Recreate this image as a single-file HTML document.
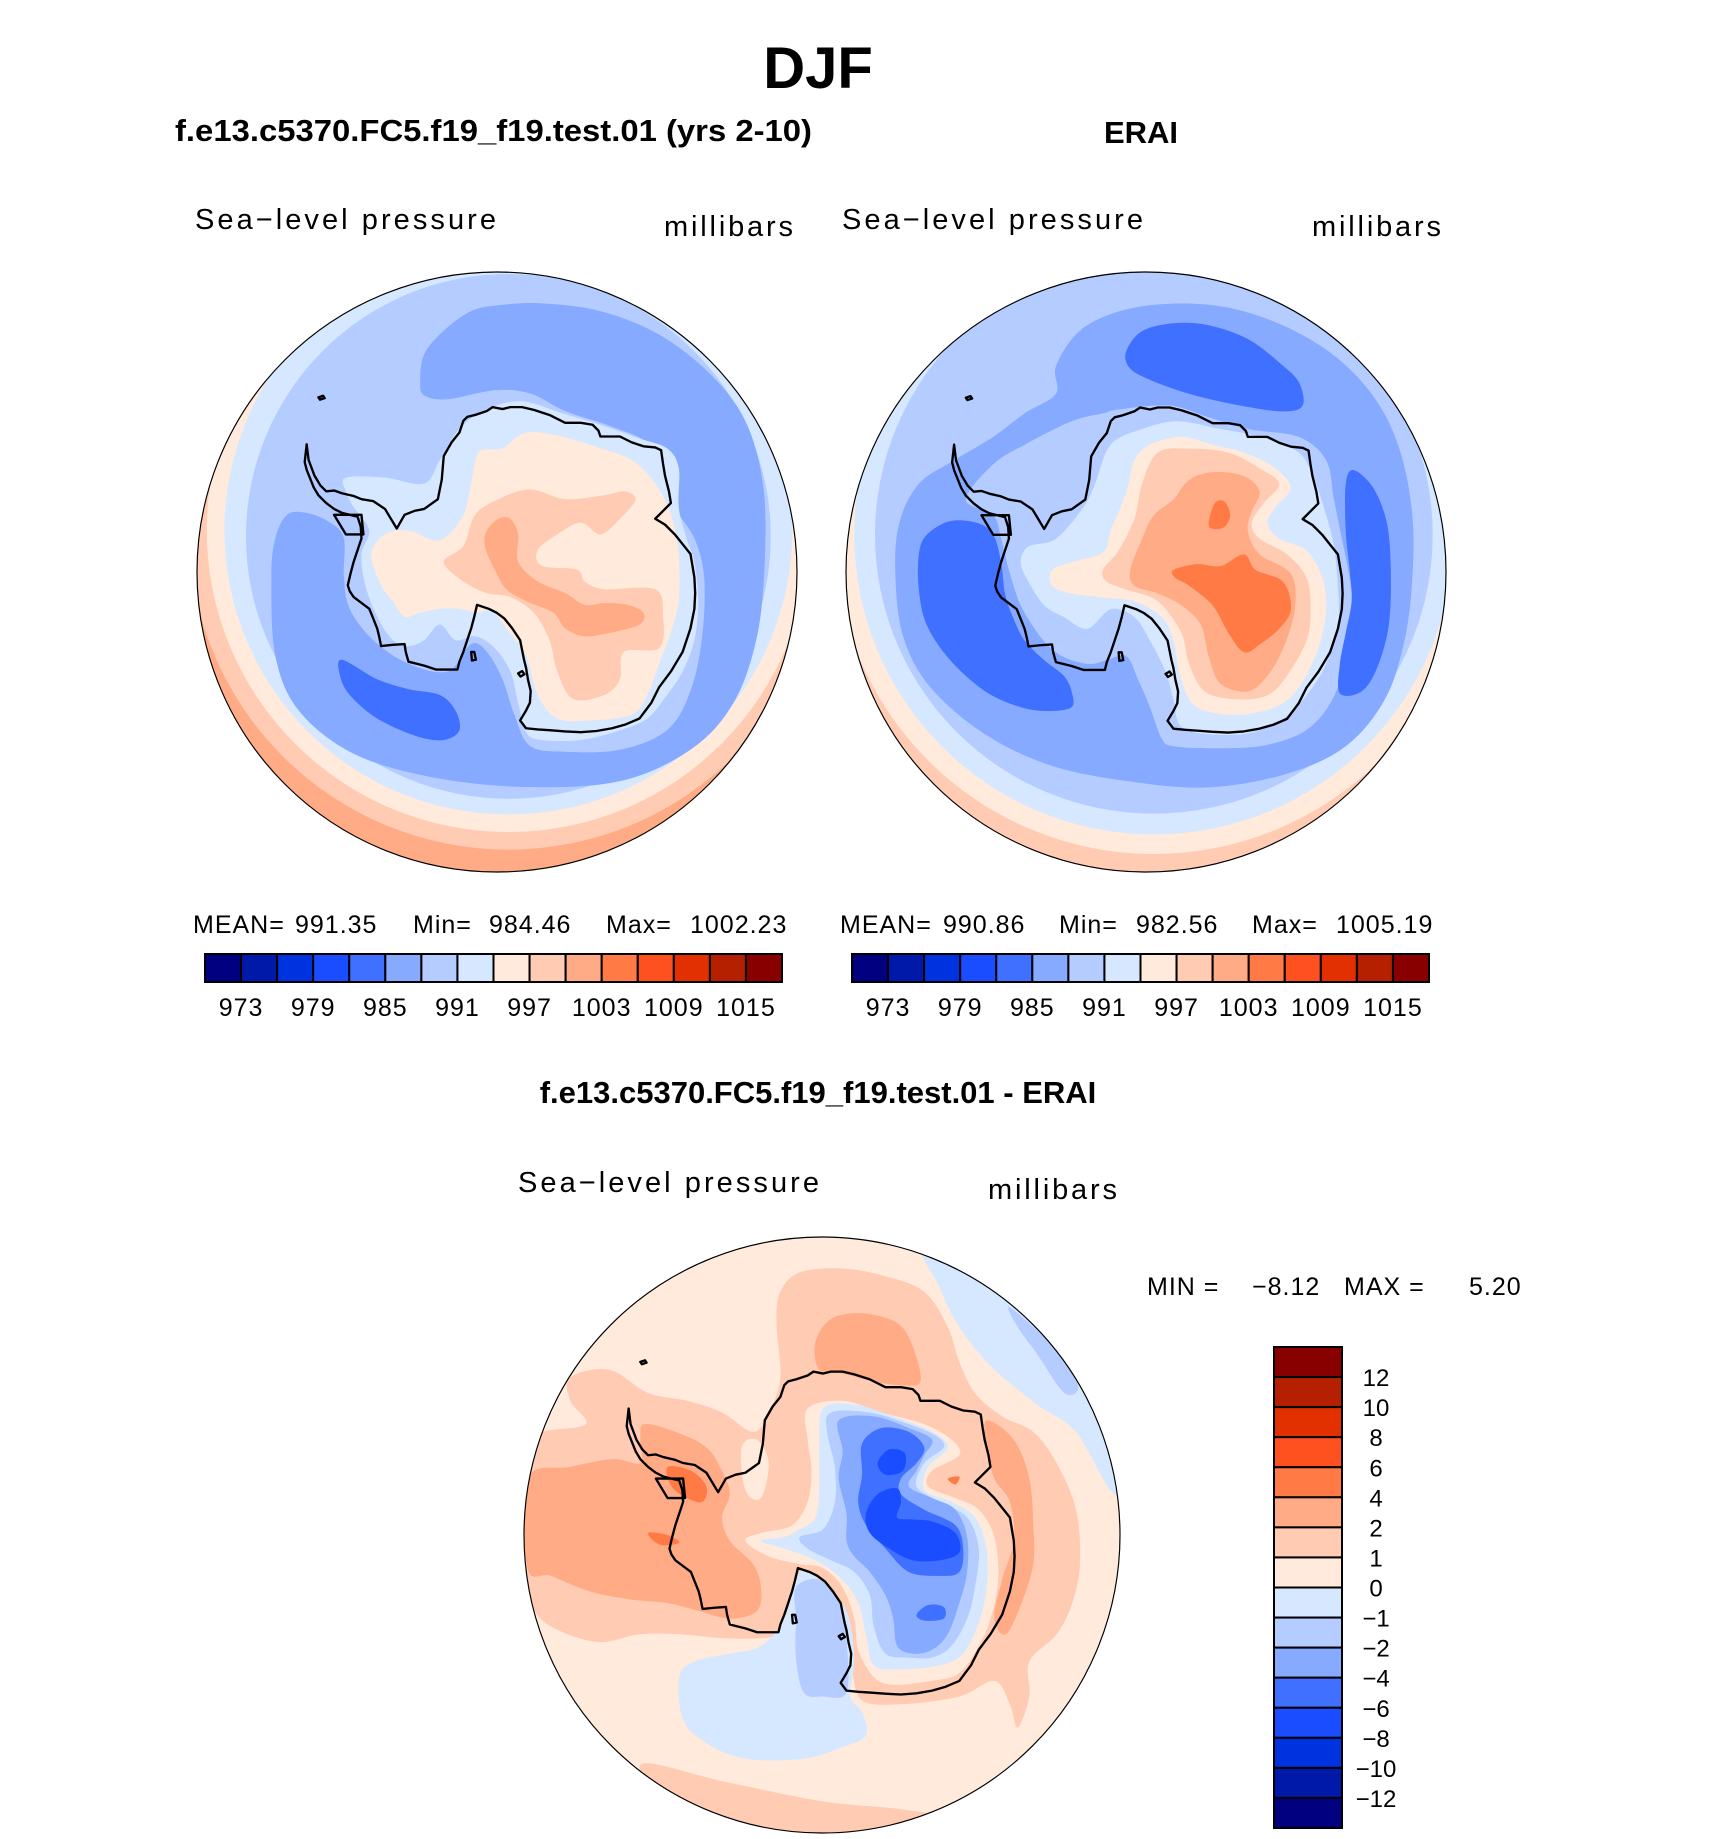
<!DOCTYPE html>
<html><head><meta charset="utf-8"><style>
html,body{margin:0;padding:0;background:#fff;}
svg{display:block;}
.t{font-family:"Liberation Sans",sans-serif;fill:#000;}
.s{font-family:"Liberation Sans",sans-serif;fill:#000;font-size:25px;letter-spacing:1px;}
</style></head><body>
<svg id="page" width="1710" height="1839" viewBox="0 0 1710 1839" xmlns="http://www.w3.org/2000/svg">
<defs>
<path id="coast" d="M300,460 L305,500 320,540 335,565 350,580 370,578 390,585 420,592 440,600 470,605 500,625 515,650 530,675 550,640 575,630 600,625 635,600 645,550 650,490 670,455 690,430 700,400 710,390 730,385 760,375 775,365 800,370 820,365 850,365 880,372 920,385 960,405 1000,405 1030,410 1045,425 1050,440 1075,440 1100,440 1130,455 1160,465 1190,468 1205,475 1210,510 1215,540 1225,580 1230,610 1210,630 1190,650 1215,665 1240,690 1260,715 1280,740 1285,770 1290,800 1292,840 1290,880 1285,905 1280,930 1270,960 1260,990 1245,1015 1230,1040 1215,1060 1200,1080 1190,1100 1180,1120 1165,1140 1150,1160 1115,1175 1080,1185 1040,1192 1000,1195 960,1193 920,1190 890,1188 860,1185 845,1165 860,1140 870,1120 872,1090 865,1060 860,1030 855,1010 850,985 845,960 825,930 805,905 785,890 765,880 735,870 728,900 720,930 710,960 700,990 690,1015 685,1035 660,1035 630,1035 600,1025 560,1015 553,990 550,970 520,972 490,975 485,950 480,930 470,905 460,880 440,865 420,850 410,835 405,820 412,790 420,760 430,730 440,700 438,670 430,645 410,640 390,635 370,625 350,610 340,600 330,590 318,570 310,550 300,525 295,505 Z M370,640 L440,640 445,690 400,690 Z M330,340 l12,-4 4,6 -12,4 Z M840,1045 l10,-6 6,8 -10,6 Z M720,990 l8,0 4,20 -10,2 Z" fill="none" stroke="#000" stroke-width="6" stroke-linejoin="round"/>
</defs>
<text class="t" x="818" y="88" text-anchor="middle" font-size="58" font-weight="bold">DJF</text>
<text class="t" x="175" y="141" font-size="31" font-weight="bold" textLength="637" lengthAdjust="spacingAndGlyphs">f.e13.c5370.FC5.f19_f19.test.01 (yrs 2-10)</text>
<text class="t" x="1141" y="143" text-anchor="middle" font-size="31" font-weight="bold">ERAI</text>
<text class="t" x="195" y="229" font-size="29" textLength="301" lengthAdjust="spacing">Sea−level pressure</text>
<text class="t" x="664" y="236" font-size="29" textLength="129" lengthAdjust="spacing">millibars</text>
<text class="t" x="842" y="229" font-size="29" textLength="301" lengthAdjust="spacing">Sea−level pressure</text>
<text class="t" x="1312" y="236" font-size="29" textLength="129" lengthAdjust="spacing">millibars</text>
<g id="map-left"></g>
<g id="map-right"></g>
<g id="map-diff"></g>
<g>
<text class="s" x="193" y="933">MEAN=</text><text class="s" x="295" y="933">991.35</text><text class="s" x="413" y="933">Min=</text><text class="s" x="489" y="933">984.46</text><text class="s" x="606" y="933">Max=</text><text class="s" x="690" y="933">1002.23</text>
</g>
<g>
<text class="s" x="840" y="933">MEAN=</text><text class="s" x="943" y="933">990.86</text><text class="s" x="1059" y="933">Min=</text><text class="s" x="1136" y="933">982.56</text><text class="s" x="1252" y="933">Max=</text><text class="s" x="1336" y="933">1005.19</text>
</g>
<g id="cb-left"></g>
<g id="cb-right"></g>
<text class="t" x="818" y="1103" text-anchor="middle" font-size="31" font-weight="bold">f.e13.c5370.FC5.f19_f19.test.01 - ERAI</text>
<text class="t" x="518" y="1192" font-size="29" textLength="301" lengthAdjust="spacing">Sea−level pressure</text>
<text class="t" x="988" y="1199" font-size="29" textLength="129" lengthAdjust="spacing">millibars</text>
<g>
<text class="s" x="1147" y="1295">MIN =</text><text class="s" x="1252" y="1295">−8.12</text><text class="s" x="1344" y="1295">MAX =</text><text class="s" x="1469" y="1295">5.20</text>
</g>
<g id="cb-diff"></g>
</svg>
<script>
const NS="http://www.w3.org/2000/svg";
const barColors=["#000080","#0019a8","#0033e0","#1a4dff","#4070ff","#85aaff","#b4ccff","#d5e8ff","#ffeadb","#ffcbb3","#ffab85","#ff7a45","#ff5020","#e33000","#b52000","#880000"];
const slpTicks=["973","979","985","991","997","1003","1009","1015"];
const slpTickIdx=[1,3,5,7,9,11,13,15];
const diffTicks=["12","10","8","6","4","2","1","0","−1","−2","−4","−6","−8","−10","−12"];

function mk(tag,attrs,parent){const e=document.createElementNS(NS,tag);for(const k in attrs)e.setAttribute(k,attrs[k]);parent.appendChild(e);return e;}

function hbar(gid,x0,x1,y0,y1){
  const g=document.getElementById(gid);const w=(x1-x0)/barColors.length;
  barColors.forEach((c,i)=>{
    const r=mk('rect',{x:x0+i*w,y:y0,width:w,height:y1-y0,fill:c,stroke:'#000','stroke-width':2},g);
    
    
  });
  slpTicks.forEach((t,i)=>{
    const tx=mk('text',{x:x0+slpTickIdx[i]*w,y:y1+34,'text-anchor':'middle','font-size':25,'letter-spacing':1,class:'t'},g);
    tx.textContent=t;
    
    
  });
}
hbar('cb-left',205,782,954,982);
hbar('cb-right',852,1429,954,982);
(function(){
  const g=document.getElementById('cb-diff');const x0=1274,x1=1342,y0=1347,y1=1828;const h=(y1-y0)/16;
  barColors.slice().reverse().forEach((c,i)=>{
    const r=mk('rect',{x:x0,y:y0+i*h,width:x1-x0,height:h,fill:c,stroke:'#000','stroke-width':2},g);
    
    
  });
  diffTicks.forEach((t,i)=>{
    const tx=mk('text',{x:1376,y:y0+(i+1)*h+9,'text-anchor':'middle','font-size':24,class:'t'},g);
    tx.textContent=t;
    
    
  });
})();

const C={c4:"#1a4dff",c5:"#4070ff",c6:"#85aaff",c7:"#b4ccff",c8:"#d5e8ff",c9:"#ffeadb",c10:"#ffcbb3",c11:"#ffab85",c12:"#ff7a45"};
function smooth(p){const n=p.length/2;const P=[];for(let i=0;i<n;i++)P.push([p[2*i],p[2*i+1]]);
  let d="M"+P[0][0]+","+P[0][1];
  for(let i=0;i<n;i++){const p0=P[(i-1+n)%n],p1=P[i],p2=P[(i+1)%n],p3=P[(i+2)%n];
    d+=" C"+(p1[0]+(p2[0]-p0[0])/6).toFixed(1)+","+(p1[1]+(p2[1]-p0[1])/6).toFixed(1)+" "+(p2[0]-(p3[0]-p1[0])/6).toFixed(1)+","+(p2[1]-(p3[1]-p1[1])/6).toFixed(1)+" "+p2[0]+","+p2[1];}
  return d+"Z";}
function drawMap(gid,x,y,size,vx,vy,layers,id){
  const g=document.getElementById(gid);
  const s=mk('svg',{x:x,y:y,width:size,height:size,viewBox:vx+" "+vy+" 1532 1532",overflow:'visible'},g);
  const cx=vx+766,cy=vy+766;
  const cp=mk('clipPath',{id:'clip'+id},s);mk('circle',{cx:cx,cy:cy,r:766},cp);
  const inner=mk('g',{'clip-path':'url(#clip'+id+')'},s);
  layers.forEach(L=>{
    let e;
    if(L[1]==='circle'){e=mk('circle',{cx:L[2],cy:L[3],r:L[4],fill:C[L[0]]},inner);}
    else{e=mk('path',{d:smooth(L[1]),fill:C[L[0]]},inner);}
    
    
  });
  const u=mk('use',{href:'#coast'},inner);
  
  
  const b=mk('circle',{cx:cx,cy:cy,r:766,fill:'none',stroke:'#000','stroke-width':3},s);
  
  
}

const leftLayers=[
 ["c11",'circle',786,786,800],
 ["c10",'circle',815,680,815],["c9",'circle',815,680,770],["c8",'circle',815,680,725],["c7",'circle',815,695,670],
 ["c6",[590,300,600,230,650,170,720,120,790,105,900,100,1050,120,1200,180,1330,280,1420,400,1465,560,1470,750,1450,950,1390,1120,1280,1240,1100,1320,860,1335,620,1310,420,1250,280,1140,220,1000,210,800,220,700,250,640,300,635,360,660,395,700,395,800,410,880,470,960,560,1020,660,1040,720,970,760,990,800,1060,830,1150,870,1230,960,1245,1100,1240,1220,1190,1280,1090,1310,950,1315,800,1290,700,1240,620,1215,520,1170,455,1080,415,960,375,870,330,780,322,660,345,600,335]],
 ["c5",[390,1010,480,1060,560,1085,640,1100,680,1140,690,1190,650,1215,580,1205,480,1160,410,1100,385,1050]],
 ["c8",[400,545,500,545,600,560,640,500,690,420,760,370,850,350,950,380,1050,410,1150,445,1220,470,1250,520,1250,620,1270,700,1290,760,1300,860,1290,960,1260,1040,1220,1100,1170,1160,1100,1190,1000,1215,900,1215,860,1195,840,1120,820,1040,780,980,730,950,680,960,640,920,600,960,560,975,520,960,480,900,450,820,440,740,460,680,420,620,400,580]],
 ["c9",[465,740,500,690,560,680,640,705,700,640,720,560,740,480,800,470,860,430,950,440,1050,470,1130,500,1190,560,1230,640,1250,740,1250,860,1230,940,1200,1020,1170,1100,1130,1150,1030,1165,940,1160,890,1100,860,1000,810,930,770,880,740,890,690,880,640,880,590,890,550,900,520,860,490,820]],
 ["c10",[650,760,700,720,730,640,790,600,870,575,960,600,1060,590,1110,580,1140,600,1100,650,1050,690,1000,660,940,690,890,730,900,770,990,780,1010,810,1060,830,1190,830,1210,900,1200,980,1110,990,1100,1060,1060,1100,980,1110,940,1040,920,960,880,890,820,850,760,840,700,810]],
 ["c11",[760,680,790,650,820,650,840,690,840,760,890,810,960,840,1010,870,1060,865,1120,870,1160,890,1150,920,1080,940,1010,950,960,930,930,890,860,860,810,830,780,780,755,720]]
];
const rightLayers=[
 ["c10",'circle',790,785,800],
 ["c9",'circle',810,690,815],["c8",'circle',810,690,765],["c7",'circle',810,690,712],
 ["c6",[150,790,160,660,210,560,300,500,400,440,480,380,560,330,560,260,620,170,720,120,850,100,1000,110,1150,160,1280,240,1380,350,1440,480,1470,640,1470,800,1450,960,1400,1110,1300,1230,1150,1300,950,1335,750,1320,550,1280,380,1200,240,1080,170,950]],
 ["c7",[330,600,400,510,480,460,600,400,680,380,720,370,850,360,950,390,1050,420,1180,440,1250,500,1270,600,1290,700,1310,800,1320,900,1300,1000,1280,1080,1240,1150,1180,1200,1080,1230,960,1235,860,1230,830,1210,800,1130,770,1060,740,1000,690,1010,650,1020,600,1010,560,990,520,950,470,870,440,780,420,700,400,640]],
 ["c5",[210,740,230,690,290,655,360,660,400,690,420,760,430,840,450,900,480,960,530,1010,580,1050,600,1090,600,1130,540,1140,470,1130,380,1090,290,1010,230,920,210,830]],
 ["c5",[740,220,780,170,860,150,950,155,1050,190,1130,250,1180,300,1190,360,1140,375,1030,360,900,330,790,290,745,260]],
 ["c5",[1300,560,1320,525,1370,570,1405,660,1415,780,1410,920,1380,1030,1340,1090,1285,1095,1285,1020,1300,940,1315,860,1310,780,1300,680]],
 ["c8",[470,760,490,720,560,700,630,620,660,560,700,460,780,420,870,400,980,420,1080,440,1180,480,1220,550,1250,640,1270,720,1280,820,1280,920,1250,1020,1200,1100,1140,1160,1060,1195,960,1200,880,1180,860,1110,840,1040,800,960,760,900,700,880,640,930,580,900,530,870,490,810]],
 ["c9",[550,780,600,760,680,735,700,680,740,580,760,500,800,460,880,440,960,460,1040,480,1120,520,1160,570,1120,620,1100,660,1130,700,1200,730,1240,800,1250,880,1230,980,1180,1080,1120,1130,1020,1150,920,1130,880,1060,860,960,830,900,760,860,680,850,600,840,550,820]],
 ["c10",[680,780,720,730,760,650,780,560,820,480,900,470,1000,480,1080,520,1130,560,1090,610,1060,660,1080,700,1150,740,1200,800,1210,880,1200,960,1150,1050,1100,1100,1020,1110,940,1090,900,1020,880,940,820,860,740,830,690,810]],
 ["c11",[750,780,780,700,810,640,860,600,900,550,960,530,1040,540,1080,580,1060,630,1050,680,1080,740,1160,790,1170,880,1140,980,1100,1050,1050,1090,980,1070,950,1000,930,920,880,870,820,840,760,820]],
 ["c12",[860,780,920,765,980,770,1040,740,1070,780,1140,810,1160,880,1130,930,1080,970,1040,990,1000,940,960,870,900,820,865,800]],
 ["c12",[950,660,965,610,990,605,1005,640,990,670,960,675]]
];
const diffLayers=[
 ["c9",'circle',797,785,800],
 ["c8",[1100,150,1150,250,1230,350,1350,450,1450,520,1560,680,1600,400,1300,-50,1060,20]],
 ["c7",[1280,200,1390,300,1455,400,1420,420,1350,320,1300,250]],
 ["c10",[35,720,35,560,80,520,190,500,150,440,150,380,250,360,350,420,450,440,540,470,620,520,660,470,690,380,680,240,690,160,740,110,850,100,960,120,1060,160,1120,250,1150,340,1190,420,1260,480,1340,520,1400,600,1450,720,1460,860,1440,960,1400,1040,1330,1110,1330,1200,1300,1280,1280,1220,1240,1160,1150,1200,1000,1220,900,1210,870,1130,820,1060,750,1000,700,1040,640,1050,540,1050,430,1040,330,1040,220,1060,100,1020,50,960,35,850]],
 ["c10",[330,1375,550,1420,800,1470,1000,1490,1120,1520,1000,1600,700,1600,450,1520]],
 ["c11",[40,640,150,610,260,590,330,600,330,540,340,500,420,520,500,560,540,620,560,680,540,740,560,800,620,860,640,920,630,980,560,1000,480,980,400,960,300,950,200,930,100,890,40,870]],
 ["c11",[780,290,820,230,900,215,990,240,1030,300,1050,390,1000,400,930,390,850,370,790,360]],
 ["c11",[1220,490,1290,540,1330,640,1340,760,1340,860,1310,960,1270,1040,1240,1000,1260,900,1290,800,1280,700,1240,640,1220,560]],
 ["c12",[400,610,460,620,500,660,490,700,450,690,410,660]],
 ["c12",[350,780,400,785,430,805,380,810]],
 ["c12",[1120,640,1150,635,1140,655]],
 ["c9",[760,460,850,440,950,470,1060,500,1130,540,1150,580,1080,620,1070,660,1140,690,1200,720,1240,790,1250,900,1230,1000,1200,1070,1150,1140,1080,1160,980,1170,930,1150,890,1080,880,1000,850,920,800,870,740,860,660,840,600,800,640,780,720,760,760,700,770,620,760,540]],
 ["c9",[590,560,630,540,660,600,640,690,600,670]],
 ["c8",[430,1150,470,1110,560,1090,640,1070,700,1000,740,880,800,910,860,980,880,1100,870,1200,900,1240,910,1300,850,1330,750,1360,600,1360,500,1320,440,1260]],
 ["c7",[730,920,790,900,840,960,860,1060,860,1190,800,1200,750,1190,730,1100,730,1000]],
 ["c8",[800,460,880,450,980,480,1080,520,1120,560,1070,610,1060,670,1130,700,1190,740,1220,820,1220,920,1200,1010,1160,1090,1100,1120,1000,1130,930,1120,910,1040,890,960,850,900,780,850,700,820,640,800,700,790,740,770,780,740,790,660,790,560]],
 ["c7",[820,470,920,470,1020,500,1090,530,1110,560,1060,600,1040,660,1100,700,1170,740,1200,820,1190,920,1170,1000,1130,1070,1080,1100,1020,1100,960,1090,930,1020,920,940,880,880,820,850,760,820,740,790,800,770,830,700,830,610,810,520]],
 ["c6",[840,490,930,480,1020,510,1080,540,1060,580,1040,620,1020,660,1080,690,1140,720,1170,790,1170,880,1150,960,1120,1040,1080,1080,1030,1090,990,1070,980,1000,960,940,920,880,880,840,860,800,860,730,840,640,850,570]],
 ["c5",[900,550,950,510,1020,520,1060,560,1040,600,1000,640,1000,680,1060,720,1140,760,1160,820,1150,880,1100,890,1020,880,960,820,910,760,890,700,900,630]],
 ["c5",[1040,990,1070,965,1110,970,1110,1000,1060,1005]],
 ["c4",[940,600,970,565,1010,575,1005,620,960,630]],
 ["c4",[910,730,940,680,990,665,1000,700,990,740,1030,745,1080,750,1140,780,1150,830,1100,850,1030,850,970,820,920,780]]
];
drawMap('map-left',197,272,600,20,20,leftLayers,'L');
drawMap('map-right',846,272,600,24,19,rightLayers,'R');
drawMap('map-diff',524,1237,596,31,19,diffLayers,'D');
</script>
</body></html>
